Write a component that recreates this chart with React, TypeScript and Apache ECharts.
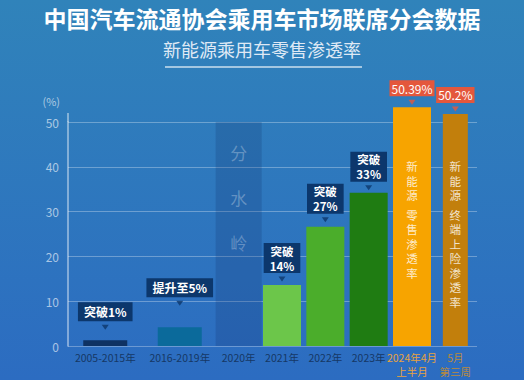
import React, { useEffect, useRef } from 'react';
import * as echarts from 'echarts';

// ---------- data ----------
const leftCategories = ['2005-2015年', '2016-2019年'];
const leftValues = [1.3, 4.2];
const leftCallouts = ['突破1%', '提升至5%'];

const rightCategories = ['2020年', '2021年', '2022年', '2023年', '2024年4月\n上半月', '5月\n第三周'];
const rightValues: (number | null)[] = [null, 13.6, 26.6, 34.2, 53.3, 51.8];
const rightCallouts = ['', '突破\n14%', '突破\n27%', '突破\n33%', '50.39%', '50.2%'];
const innerTexts: string[][] = [[], [], [], [], ['新能源', '零售渗透率'], ['新能源', '终端上险渗透率']];
const watershedValue = 50;
const watershedText = '分水岭';

const yMin = 0;
const yMax = 50;
const yInterval = 10;

const titleText = '中国汽车流通协会乘用车市场联席分会数据';
const subtitleText = '新能源乘用车零售渗透率';

// ---------- styles ----------
const FONT = '"Noto Sans CJK SC", "Noto Sans", sans-serif';
const NAVY = '#0c376c';
const RED = '#e4573c';
const leftColors = ['#0e3263', '#0b6a9b'];
const rightColors = ['rgba(20,50,110,0.22)', '#6cc64a', '#4bad2b', '#1f7c12', '#f7a400', '#c27f0c'];
const leftCalloutGap = [19, 30];
const rightCalloutGap = [0, 12, 13, 11, 11, 11];
const innerDistance = [0, 0, 0, 0, 52, 45];
const labelColors = ['#163865', '#163865', '#163865', '#163865', '#e8a23e', '#b98a3c'];

function calloutLabel(text: string, red: boolean, gap: number) {
  const multi = text.includes('\n');
  return {
    show: true,
    position: 'top',
    distance: gap,
    formatter: text,
    backgroundColor: red ? RED : NAVY,
    color: '#fff',
    fontFamily: FONT,
    fontSize: multi ? 11.5 : 12,
    fontWeight: red ? 'normal' : 'bold',
    lineHeight: red ? 14 : multi ? 15 : 13,
    padding: red ? [1, 2] : multi ? [0, 6] : [3, 6],
    align: 'center',
  };
}

function verticalFormatter(groups: string[]) {
  return groups.map((g) => g.split('').map((c) => `{v|${c}}`).join('\n')).join('\n{g| }\n');
}

const Chart: React.FC = () => {
  const ref = useRef<HTMLDivElement>(null);
  useEffect(() => {
    if (!ref.current) return;
    const chart = echarts.init(ref.current, undefined, { renderer: 'svg' });

    const yAxisBase = {
      type: 'value' as const,
      min: yMin,
      max: yMax,
      interval: yInterval,
      splitLine: { show: true, lineStyle: { color: 'rgba(255,255,255,0.3)', width: 1 } },
      axisTick: { show: false },
    };

    const leftData = leftValues.map((v, i) => ({
      value: v,
      itemStyle: { color: leftColors[i] },
      label: calloutLabel(leftCallouts[i], false, leftCalloutGap[i]),
    }));

    const leftArrows = leftValues.map((v, i) => ({
      value: v,
      symbolOffset: [0, -(leftCalloutGap[i] - 6)],
      itemStyle: { color: NAVY },
    }));

    const mainData = rightValues.map((v, i) => {
      if (v == null || i >= 5) return '-';
      return {
        value: v,
        itemStyle: { color: rightColors[i] },
        label: calloutLabel(rightCallouts[i], i >= 4, rightCalloutGap[i]),
      };
    });

    const narrowData = rightValues.map((v, i) => {
      if (v == null || i !== 5) return '-';
      return {
        value: v,
        itemStyle: { color: rightColors[i] },
        label: calloutLabel(rightCallouts[i], true, rightCalloutGap[i]),
      };
    });

    const rightArrows = rightValues.map((v, i) => {
      if (v == null || !rightCallouts[i]) return '-';
      return {
        value: v,
        symbolOffset: [0, -(rightCalloutGap[i] - 6)],
        itemStyle: { color: i >= 4 ? RED : NAVY },
      };
    });

    const shadeData = rightCategories.map((_, i) => (i === 0 ? { value: watershedValue, itemStyle: { color: rightColors[0] } } : '-'));

    const innerData = rightValues.map((v, i) => {
      if (v == null || innerTexts[i].length === 0) return '-';
      return {
        value: v,
        itemStyle: { color: 'rgba(0,0,0,0)' },
        label: {
          show: true,
          position: 'insideTop',
          distance: innerDistance[i],
          formatter: verticalFormatter(innerTexts[i]),
          rich: {
            v: { fontSize: 11.5, lineHeight: 14.5, color: 'rgba(255,255,255,0.8)', fontFamily: FONT },
            g: { fontSize: 1, lineHeight: 5 },
          },
        },
      };
    });

    const arrowSeries = {
      type: 'scatter',
      symbol: 'triangle',
      symbolRotate: 180,
      symbolSize: [7, 5],
      clip: false,
      silent: true,
      z: 5,
    };

    const xLabel = { interval: 0, fontSize: 10.5, margin: 5, lineHeight: 13.5, fontFamily: FONT };

    const option: any = {
      animation: false,
      backgroundColor: new echarts.graphic.LinearGradient(0, 0, 0, 1, [
        { offset: 0, color: '#3083ba' },
        { offset: 1, color: '#2c6cc1' },
      ]),
      textStyle: { fontFamily: FONT },
      title: [
        {
          text: titleText,
          left: 'center',
          top: 1,
          textStyle: { color: '#ffffff', fontSize: 23, fontWeight: 'bold', fontFamily: FONT },
        },
        {
          text: subtitleText,
          left: 'center',
          top: 35,
          textStyle: { color: '#dfe9f5', fontSize: 18, fontWeight: 'normal', fontFamily: FONT },
        },
      ],
      graphic: [
        {
          type: 'line',
          shape: { x1: 165, y1: 67, x2: 362, y2: 67 },
          style: { stroke: 'rgba(255,255,255,0.75)', lineWidth: 1.5 },
        },
        {
          type: 'line',
          shape: { x1: 68, y1: 113, x2: 68, y2: 122 },
          style: { stroke: 'rgba(255,255,255,0.55)', lineWidth: 1.5 },
        },
      ],
      grid: [
        { left: 68, top: 122, width: 149, height: 224 },
        { left: 217, top: 122, width: 260, height: 224 },
      ],
      xAxis: [
        {
          type: 'category',
          gridIndex: 0,
          data: leftCategories.map((c, i) => ({ value: c, textStyle: { color: labelColors[i] } })),
          axisLine: { show: false },
          axisTick: { show: false },
          axisLabel: xLabel,
        },
        {
          type: 'category',
          gridIndex: 1,
          data: rightCategories.map((c, i) => ({ value: c, textStyle: { color: labelColors[i] } })),
          axisLine: { show: false },
          axisTick: { show: false },
          axisLabel: xLabel,
        },
        { type: 'category', gridIndex: 1, data: rightCategories, show: false },
        { type: 'category', gridIndex: 1, data: rightCategories, show: false },
      ],
      yAxis: [
        {
          ...yAxisBase,
          gridIndex: 0,
          name: '(%)',
          nameLocation: 'end',
          nameGap: 16,
          nameTextStyle: { color: 'rgba(255,255,255,0.6)', fontSize: 11, align: 'right', padding: [0, 8, 0, 0], fontFamily: FONT },
          axisLine: { show: true, lineStyle: { color: 'rgba(255,255,255,0.55)', width: 1.5 } },
          axisLabel: { color: 'rgba(255,255,255,0.6)', fontSize: 12, margin: 9, fontFamily: FONT },
        },
        {
          ...yAxisBase,
          gridIndex: 1,
          axisLine: { show: false },
          axisLabel: { show: false },
        },
      ],
      series: [
        { type: 'bar', xAxisIndex: 0, yAxisIndex: 0, barWidth: 44, clip: false, data: leftData },
        { ...arrowSeries, xAxisIndex: 0, yAxisIndex: 0, data: leftArrows },
        {
          type: 'bar',
          xAxisIndex: 2,
          yAxisIndex: 1,
          barWidth: 46,
          barGap: '-100%',
          clip: false,
          data: shadeData,
          label: {
            show: true,
            position: 'insideTop',
            distance: 8,
            formatter: watershedText.split('').join('\n'),
            color: 'rgba(255,255,255,0.28)',
            fontSize: 17,
            lineHeight: 45,
            fontFamily: FONT,
          },
        },
        { type: 'bar', xAxisIndex: 1, yAxisIndex: 1, barWidth: 38, clip: false, data: mainData, z: 3 },
        { type: 'bar', xAxisIndex: 3, yAxisIndex: 1, barWidth: 25, clip: false, data: narrowData, z: 3 },
        {
          type: 'bar',
          xAxisIndex: 2,
          yAxisIndex: 1,
          barWidth: 46,
          barGap: '-100%',
          clip: false,
          data: innerData,
          z: 4,
        },
        { ...arrowSeries, xAxisIndex: 1, yAxisIndex: 1, data: rightArrows },
      ],
    };
    chart.setOption(option);
    return () => chart.dispose();
  }, []);
  return <div ref={ref} style={{ width: 524, height: 380 }} />;
};

export default function App() {
  return (
    <div style={{ position: 'fixed', left: 0, top: 0, width: 524, height: 380 }}>
      <Chart />
    </div>
  );
}
